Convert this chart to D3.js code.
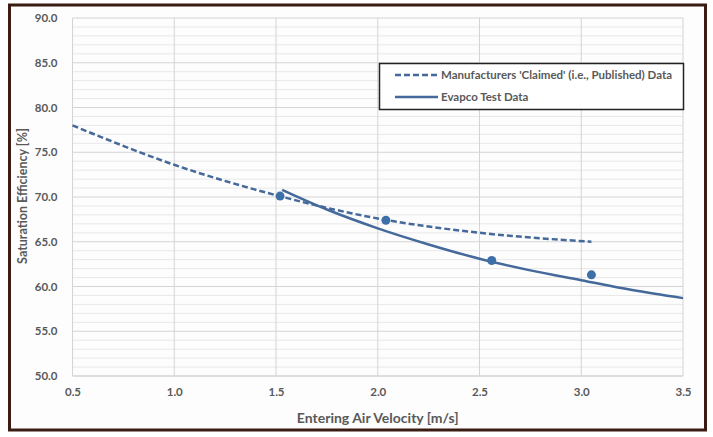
<!DOCTYPE html>
<html>
<head>
<meta charset="utf-8">
<script src="https://cdn.jsdelivr.net/npm/d3@7"></script>
<style>
  html, body { margin: 0; padding: 0; background: #fff; }
  svg { display: block; }
  text { font-family: Lato, "Open Sans", sans-serif; font-weight: 700; fill: #595959; }
</style>
</head>
<body>
<svg id="chart" width="713" height="437"></svg>
<script>
// Manufacturer published curve (velocity m/s, saturation efficiency %)
const claimedX = [0.5, 1.0, 1.5, 2.0, 2.5, 3.05];
const claimedY = [78.0, 73.6, 70.2, 67.6, 66.0, 65.0];

// Evapco test fit curve
const fitX = [1.53, 1.75, 2.0, 2.25, 2.5, 2.75, 3.0, 3.25, 3.5];
const fitY = [70.8, 68.6, 66.5, 64.7, 63.1, 61.8, 60.7, 59.6, 58.7];

// Measured test points
const testX = [1.52, 2.04, 2.56, 3.05];
const testY = [70.1, 67.4, 62.9, 61.3];

const xTicks = [0.5, 1.0, 1.5, 2.0, 2.5, 3.0, 3.5];
const yTicks = [50, 55, 60, 65, 70, 75, 80, 85, 90];
const yMinor = d3.range(50, 91, 1);

const legendLabels = ["Manufacturers 'Claimed' (i.e., Published) Data", "Evapco Test Data"];

const svg = d3.select("#chart");
const W = 713, H = 437;
const plot = { left: 72.5, right: 683, top: 18, bottom: 376 };

const x = d3.scaleLinear().domain([0.5, 3.5]).range([plot.left, plot.right]);
const y = d3.scaleLinear().domain([50, 90]).range([plot.bottom, plot.top]);

const lineColor = "#45699a";
const markerColor = "#3d70a8";

// Outer frame
svg.append("rect").attr("x", 0).attr("y", 0).attr("width", W).attr("height", H).attr("fill", "#fff");
svg.append("rect")
  .attr("x", 9.5).attr("y", 5).attr("width", 696).attr("height", 425)
  .attr("fill", "#fdfdfd").attr("stroke", "#3b1c12").attr("stroke-width", 3);

// Minor horizontal gridlines
svg.append("g").selectAll("line").data(yMinor.filter(v => v % 5 !== 0)).join("line")
  .attr("x1", plot.left).attr("x2", plot.right)
  .attr("y1", d => y(d)).attr("y2", d => y(d))
  .attr("stroke", "#e8e8e8").attr("stroke-width", 1);

// Major gridlines
svg.append("g").selectAll("line").data(yTicks).join("line")
  .attr("x1", plot.left).attr("x2", plot.right)
  .attr("y1", d => y(d)).attr("y2", d => y(d))
  .attr("stroke", d => d === 50 ? "#bfbfbf" : "#d4d4d4").attr("stroke-width", 1);
svg.append("g").selectAll("line").data(xTicks).join("line")
  .attr("x1", d => x(d)).attr("x2", d => x(d))
  .attr("y1", plot.top).attr("y2", plot.bottom)
  .attr("stroke", "#d4d4d4").attr("stroke-width", 1);

// Axes (labels only, lines drawn as grid)
const yAxis = d3.axisLeft(y).tickValues(yTicks).tickFormat(d3.format(".1f")).tickSize(0).tickPadding(15);
const gy = svg.append("g").attr("transform", `translate(${plot.left},0)`).call(yAxis);
gy.select(".domain").remove();
gy.selectAll("text").attr("font-size", 11.5).style("font-family", "Lato, sans-serif").style("font-weight", 700).attr("fill", "#595959");

const xAxis = d3.axisBottom(x).tickValues(xTicks).tickFormat(d3.format(".1f")).tickSize(0).tickPadding(12);
const gx = svg.append("g").attr("transform", `translate(0,${plot.bottom})`).call(xAxis);
gx.select(".domain").remove();
gx.selectAll("text").attr("font-size", 11.5).style("font-family", "Lato, sans-serif").style("font-weight", 700).attr("fill", "#595959");

// Axis titles
svg.append("text")
  .attr("x", (plot.left + plot.right) / 2).attr("y", 423)
  .attr("text-anchor", "middle").attr("font-size", 14)
  .text("Entering Air Velocity [m/s]");
svg.append("text")
  .attr("transform", `translate(27,196) rotate(-90)`)
  .attr("text-anchor", "middle").attr("font-size", 12.5)
  .text("Saturation Efficiency [%]");

// Series
const line = d3.line().x(d => x(d[0])).y(d => y(d[1])).curve(d3.curveMonotoneX);

svg.append("path")
  .datum(claimedX.map((v, i) => [v, claimedY[i]]))
  .attr("d", line).attr("fill", "none")
  .attr("stroke", lineColor).attr("stroke-width", 2.5).attr("stroke-dasharray", "6,3");

svg.append("path")
  .datum(fitX.map((v, i) => [v, fitY[i]]))
  .attr("d", line).attr("fill", "none")
  .attr("stroke", lineColor).attr("stroke-width", 2.5);

svg.append("g").selectAll("circle").data(testX.map((v, i) => [v, testY[i]])).join("circle")
  .attr("cx", d => x(d[0])).attr("cy", d => y(d[1])).attr("r", 4.5)
  .attr("fill", markerColor);

// Legend
const lg = svg.append("g");
lg.append("rect").attr("x", 379.5).attr("y", 63.5).attr("width", 304).attr("height", 46)
  .attr("fill", "#fff").attr("stroke", "#222").attr("stroke-width", 1.5);
const rows = [{ y: 75, dash: "6,3" }, { y: 97, dash: null }];
rows.forEach((r, i) => {
  lg.append("line").attr("x1", 395).attr("x2", 438).attr("y1", r.y).attr("y2", r.y)
    .attr("stroke", lineColor).attr("stroke-width", 2.5)
    .attr("stroke-dasharray", r.dash);
  lg.append("text").attr("x", 441).attr("y", r.y + 4).attr("font-size", 11.5)
    .text(legendLabels[i]);
});
</script>
</body>
</html>
